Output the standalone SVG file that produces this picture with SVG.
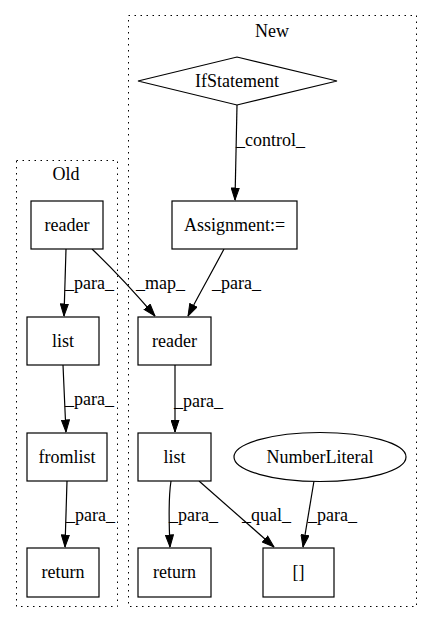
<svg xmlns="http://www.w3.org/2000/svg" width="432" height="624" viewBox="0 0 432 624">
<style>
.cl{fill:none;stroke:#000;stroke-width:1;stroke-dasharray:1.5,4.5}
.n{fill:#fff;stroke:#000;stroke-width:1.2}
text{font-family:"Liberation Serif","Times New Roman",serif;font-size:18px;fill:#000}
.c{text-anchor:middle}
.e{fill:none;stroke:#000;stroke-width:1.2}
</style>
<defs>
<marker id="a" markerWidth="13" markerHeight="9" refX="12.5" refY="4.5" orient="auto" markerUnits="userSpaceOnUse">
<path d="M0.5,0.5 L12.5,4.5 L0.5,8.5 z" fill="#000" stroke="#000"/>
</marker>
</defs>
<rect width="432" height="624" fill="#fff"/>
<g id="cluster_old">
<rect class="cl" x="16.5" y="160.5" width="101" height="446"/>
<text class="c" x="66" y="180">Old</text>
</g>
<g id="cluster_new">
<rect class="cl" x="128.5" y="15.5" width="288" height="591"/>
<text class="c" x="272" y="37">New</text>
</g>
<g id="edges">
<path class="e" d="M66,249 L64,316" marker-end="url(#a)"/>
<path class="e" d="M63,365 C64,390 65,410 66,432" marker-end="url(#a)"/>
<path class="e" d="M67,481 L65,547" marker-end="url(#a)"/>
<path class="e" d="M92,249 C112,268 136,294 155,316" marker-end="url(#a)"/>
<path class="e" d="M237,105 L235,200" marker-end="url(#a)"/>
<path class="e" d="M224,249 C212,272 198,296 188,316" marker-end="url(#a)"/>
<path class="e" d="M175,365 L175,432" marker-end="url(#a)"/>
<path class="e" d="M171,481 C168,500 169,525 170,547" marker-end="url(#a)"/>
<path class="e" d="M199,481 L274,547" marker-end="url(#a)"/>
<path class="e" d="M314,481 L303,547" marker-end="url(#a)"/>
<text x="65" y="289">_para_</text>
<text x="65" y="405">_para_</text>
<text x="66" y="521">_para_</text>
<text x="136" y="289">_map_</text>
<text x="212" y="289">_para_</text>
<text x="236" y="146">_control_</text>
<text x="174" y="407">_para_</text>
<text x="169" y="521">_para_</text>
<text x="242" y="521">_qual_</text>
<text x="308" y="521">_para_</text>
</g>
<g id="old_reader"><rect class="n" x="31" y="201" width="72" height="48"/><text class="c" x="67" y="231">reader</text></g>
<g id="old_list"><rect class="n" x="27" y="317" width="72" height="48"/><text class="c" x="63" y="347">list</text></g>
<g id="old_fromlist"><rect class="n" x="27" y="433" width="80" height="48"/><text class="c" x="67" y="463">fromlist</text></g>
<g id="old_return"><rect class="n" x="27" y="548" width="72" height="49"/><text class="c" x="63" y="578">return</text></g>
<g id="new_if"><polygon class="n" points="138,81 237,57 337,81 237,105"/><text class="c" x="237" y="87">IfStatement</text></g>
<g id="new_assign"><rect class="n" x="172" y="201" width="125" height="48"/><text class="c" x="234.5" y="231">Assignment:=</text></g>
<g id="new_reader"><rect class="n" x="138" y="317" width="73" height="48"/><text class="c" x="174.5" y="347">reader</text></g>
<g id="new_list"><rect class="n" x="138" y="433" width="73" height="48"/><text class="c" x="174.5" y="463">list</text></g>
<g id="new_num"><ellipse class="n" cx="320" cy="457" rx="86" ry="24.5"/><text class="c" x="320" y="463">NumberLiteral</text></g>
<g id="new_return"><rect class="n" x="138" y="548" width="73" height="49"/><text class="c" x="174.5" y="578">return</text></g>
<g id="new_index"><rect class="n" x="263" y="548" width="71" height="49"/><text class="c" x="298.5" y="578">[]</text></g>
</svg>
